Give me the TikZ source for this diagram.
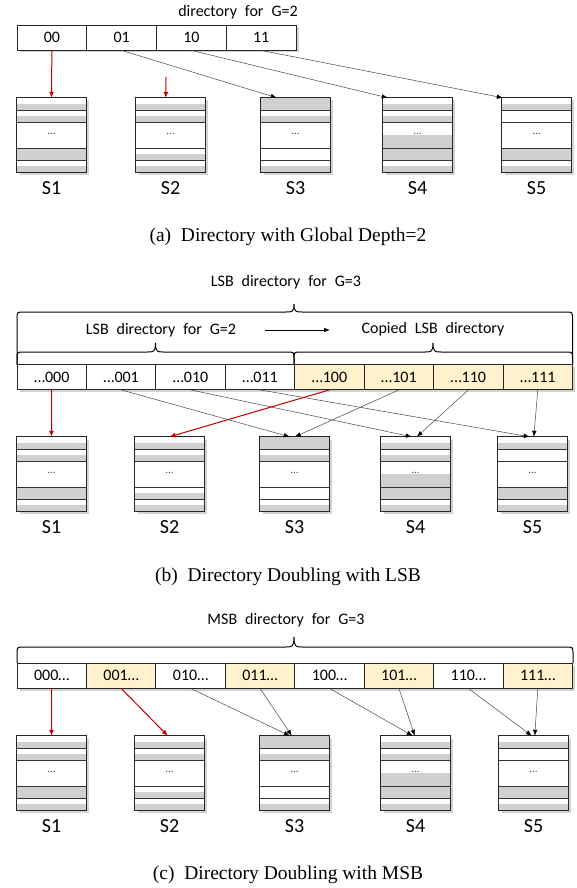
\documentclass[tikz,border=0pt]{standalone}
\usepackage{fontspec}
\setmainfont{Liberation Serif}
\newfontfamily\diagfont[WordSpace=2.2]{Carlito}
\usetikzlibrary{arrows.meta,shadows,calc}
\definecolor{cellgrey}{RGB}{208,208,208}
\definecolor{copyyel}{RGB}{255,242,204}
\definecolor{darkred}{RGB}{192,0,0}
\definecolor{linegrey}{RGB}{70,70,70}
\tikzset{
 shad/.style={drop shadow={shadow xshift=2.5pt, shadow yshift=-2.5pt, opacity=0.35}},
 dircell/.style={draw=black!85, line width=0.8pt, fill=white, minimum width=#1, minimum height=25pt, inner sep=0pt, font=\diagfont\fontsize{16}{18}\selectfont},
 dirbar/.style={fill=white, minimum width=#1, minimum height=25pt, inner sep=0pt, shad},
 bucketbox/.style={fill=white, minimum width=69pt, minimum height=74pt, inner sep=0pt, shad},
 rowline/.style={draw=black!80, line width=0.9pt},
 bucketborder/.style={draw=black!85, line width=0.9pt},
 dotstext/.style={font=\diagfont\fontsize{11}{12}\selectfont, text=black!70, inner sep=0pt},
 slabel/.style={font=\diagfont\fontsize{20}{22}\selectfont, inner sep=0pt},
 dirlabel/.style={font=\diagfont\fontsize{16}{18}\selectfont, inner sep=0pt},
 captext/.style={font=\fontsize{19.5}{22}\selectfont, inner sep=0pt},
 ptr/.style={draw=linegrey, line width=0.5pt, -{Latex[length=6pt,width=4.5pt,color=black]}},
 redptr/.style={draw=darkred, line width=1pt, -{Latex[length=6pt,width=5pt]}},
 bracestyle/.style={draw=black, line width=1pt},
 copyarrow/.style={draw=black, line width=0.6pt, -{Latex[length=6pt,width=4.5pt]}},
}
% bucket: name, left, top, five grey fractions, label
\newcommand\bkt[9]{%
 \node[bucketbox] (#1) at ({#2+34.5},{#3+37}) {};
 \fill[cellgrey] (#2,{#3+12*(1-#4)}) rectangle ({#2+69},{#3+12});
 \fill[cellgrey] (#2,{#3+12+12*(1-#5)}) rectangle ({#2+69},{#3+24});
 \fill[cellgrey] (#2,{#3+24+26*(1-#6)}) rectangle ({#2+69},{#3+50});
 \fill[cellgrey] (#2,{#3+50+12*(1-#7)}) rectangle ({#2+69},{#3+62});
 \fill[cellgrey] (#2,{#3+62+12*(1-#8)}) rectangle ({#2+69},{#3+74});
 \draw[rowline] (#2,{#3+12}) -- ++(69,0);
 \draw[rowline] (#2,{#3+24}) -- ++(69,0);
 \draw[rowline] (#2,{#3+50}) -- ++(69,0);
 \draw[rowline] (#2,{#3+62}) -- ++(69,0);
 \node[dotstext] (#1dots) at ({#2+34.5},{#3+36}) {...};
 \draw[bucketborder] (#1.north west) rectangle (#1.south east);
 \node[slabel] (#1lab) at ({#2+34.5},{#3+90}) {#9};
}
% brace: x1, x2, xtip, ybottom, yline, ytip
\newcommand\curlyb[6]{%
 \draw[bracestyle] (#1,#4) -- (#1,{#5+7}) .. controls (#1,#5) .. ({#1+7},#5)
  -- ({#3-8},#5) .. controls ({#3-2},#5) and (#3,#5) .. (#3,#6)
  .. controls (#3,#5) and ({#3+2},#5) .. ({#3+8},#5)
  -- ({#2-7},#5) .. controls (#2,#5) .. (#2,{#5+7}) -- (#2,#4);
}
\begin{document}
\begin{tikzpicture}[x=1pt,y=-1pt]
\useasboundingbox (0,0) rectangle (576,888);

% ================= (a) =================
\node[dirlabel] (atitle) at (238,12) {directory for G=2};
\node[dirbar=279pt] (adir) at (156.5,37.5) {};
\foreach \t [count=\i from 0] in {00,01,10,11}
  \node[dircell=69.75pt] (ad\i) at ({17+69.75*(\i+0.5)},37.5) {\t};
\bkt{aS1}{17}{98}{0.5}{0.5}{0}{1}{0.5}{S1}
\bkt{aS2}{136}{98}{0.5}{0.5}{0}{0.5}{0.5}{S2}
\bkt{aS3}{261}{98}{1}{0.5}{0}{0}{0.5}{S3}
\bkt{aS4}{383}{98}{0.5}{0.5}{0.5}{1}{0.5}{S4}
\bkt{aS5}{502}{98}{0.5}{0}{0}{1}{0.5}{S5}
\coordinate (a2src) at (166,77);
\draw[redptr] (ad0.south) -- (aS1.north);
\draw[redptr] (a2src) -- ($(aS2.north west)+(30,0)$);
\draw[ptr] (ad1.south) -- ($(aS3.north west)+(16,0)$);
\draw[ptr] (ad2.south) -- ($(aS4.north west)+(5,0)$);
\draw[ptr] (ad3.south) -- ($(aS5.north west)+(1,0)$);
\node[captext] (capa) at (288,237) {(a)\enspace Directory with Global Depth=2};

% ================= (b) =================
\node[dirlabel] (btitle) at (286,282) {LSB directory for G=3};
\curlyb{17}{572.5}{294}{365}{312}{304}
\node[dirlabel] (bleft) at (161,330) {LSB directory for G=2};
\node[dirlabel] (bright) at (433,329) {Copied LSB directory};
\coordinate (cpL) at (265,330);
\coordinate (cpR) at (330,330);
\draw[copyarrow] (cpL) -- (cpR);
\curlyb{17}{294}{155.5}{365}{352}{343}
\curlyb{294}{572.5}{433}{365}{352}{343}
\node[dirbar=555.5pt] (bdir) at (294.75,377) {};
\foreach \t [count=\i from 0] in {…000,…001,…010,…011}
  \node[dircell=69.44pt] (bd\i) at ({17+69.44*(\i+0.5)},377) {\t};
\foreach \t [count=\i from 4] in {…100,…101,…110,…111}
  \node[dircell=69.44pt, fill=copyyel] (bd\i) at ({17+69.44*(\i+0.5)},377) {\t};
\bkt{bS1}{17}{437}{0.5}{0.5}{0}{1}{0.5}{S1}
\bkt{bS2}{135}{437}{0.5}{0.5}{0}{0.5}{0.5}{S2}
\bkt{bS3}{260}{437}{1}{0.5}{0}{0}{0.5}{S3}
\bkt{bS4}{381}{437}{0.5}{0.5}{0.5}{1}{0.5}{S4}
\bkt{bS5}{498}{437}{0.5}{0}{0}{1}{0.5}{S5}
\draw[ptr] (bd1.south) -- ($(bS3.north west)+(30,0)$);
\draw[ptr] (bd5.south) -- ($(bS3.north west)+(35,0)$);
\draw[ptr] (bd2.south) -- ($(bS4.north west)+(31,0)$);
\draw[ptr] (bd6.south) -- ($(bS4.north west)+(36,0)$);
\draw[ptr] (bd3.south) -- ($(bS5.north west)+(32,0)$);
\draw[ptr] (bd7.south) -- ($(bS5.north west)+(36,0)$);
\draw[redptr] (bd0.south) -- (bS1.north);
\draw[redptr] (bd4.south) -- (bS2.north);
\node[captext] (capb) at (288,577) {(b)\enspace Directory Doubling with LSB};

% ================= (c) =================
\node[dirlabel] (ctitle) at (286,620) {MSB directory for G=3};
\curlyb{17}{573}{294}{663}{647}{637}
\node[dirbar=555.5pt] (cdir) at (294.75,675.5) {};
\foreach \t/\i in {000…/0,010…/2,100…/4,110…/6}
  \node[dircell=69.44pt] (cd\i) at ({17+69.44*(\i+0.5)},675.5) {\t};
\foreach \t/\i in {001…/1,011…/3,101…/5,111…/7}
  \node[dircell=69.44pt, fill=copyyel] (cd\i) at ({17+69.44*(\i+0.5)},675.5) {\t};
\bkt{cS1}{17}{736}{0.5}{0.5}{0}{1}{0.5}{S1}
\bkt{cS2}{135}{736}{0.5}{0.5}{0}{0.5}{0.5}{S2}
\bkt{cS3}{260}{736}{1}{0.5}{0}{0}{0.5}{S3}
\bkt{cS4}{381}{736}{0.5}{0.5}{0.5}{1}{0.5}{S4}
\bkt{cS5}{499}{736}{0.5}{0}{0}{1}{0.5}{S5}
\draw[ptr] (cd2.south) -- ($(cS3.north west)+(30,0)$);
\draw[ptr] (cd3.south) -- ($(cS3.north west)+(32,0)$);
\draw[ptr] (cd4.south) -- ($(cS4.north west)+(32,0)$);
\draw[ptr] (cd5.south) -- ($(cS4.north west)+(34,0)$);
\draw[ptr] (cd6.south) -- ($(cS5.north west)+(33,0)$);
\draw[ptr] (cd7.south) -- ($(cS5.north west)+(36,0)$);
\draw[redptr] (cd0.south) -- (cS1.north);
\draw[redptr] (cd1.south) -- ($(cS2.north west)+(33,0)$);
\node[captext] (capc) at (288,875) {(c)\enspace Directory Doubling with MSB};
\end{tikzpicture}
\end{document}
